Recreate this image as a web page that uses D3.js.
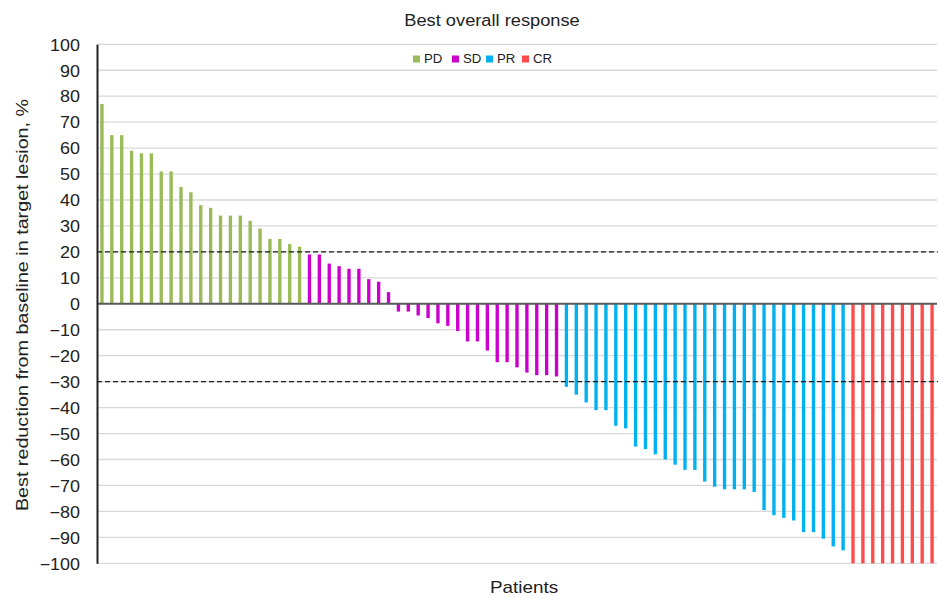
<!DOCTYPE html>
<html>
<head>
<meta charset="utf-8">
<script src="https://cdn.jsdelivr.net/npm/d3@7"></script>
<style>
  body { margin: 0; background: #fff; }
  svg { display: block; font-family: "Liberation Sans", Arial, Helvetica, sans-serif; }
</style>
</head>
<body>
<svg id="chart" width="938" height="598"></svg>
<script>
// ---- Data ----
const groups = ["PD", "SD", "PR", "CR"];
const groupColors = ["#9BBB59", "#CC00CC", "#00B0F0", "#FF4B4B"];
const pdValues = [77, 65, 65, 59, 58, 58, 51, 51, 45, 43, 38, 37, 34, 34, 34, 32, 29, 25, 25, 23, 22];
const sdValues = [19, 19, 15.5, 14.5, 13.5, 13.5, 9.5, 8.5, 4.5,
  -3, -3, -4.5, -5.5, -7.5, -8.5, -10.5, -14.5, -14.5, -18, -22.5, -22.5, -24.5, -26.5, -27.5, -27.5, -28];
const prValues = [-32, -35, -38, -41, -41, -47, -48, -55, -56, -58, -60, -62, -64, -64, -68.5,
  -70.5, -71.5, -71.5, -71.5, -72.5, -79.5, -81.5, -82.5, -83.5, -88, -88, -90.5, -93.5, -95];
const crValues = [-100, -100, -100, -100, -100, -100, -100, -100, -100];
const yTicks = [100, 90, 80, 70, 60, 50, 40, 30, 20, 10, 0, -10, -20, -30, -40, -50, -60, -70, -80, -90, -100];
const thresholds = [20, -30];
const titleText = "Best overall response";
const yLabel = "Best reduction from baseline in target lesion, %";
const xLabel = "Patients";

// ---- Build table ----
const seriesValues = [pdValues, sdValues, prValues, crValues];
const rows = [];
seriesValues.forEach((vals, gi) => vals.forEach(v => rows.push({ id: rows.length, group: groups[gi], value: v })));

const svg = d3.select("#chart");
const pLeft = 97, pRight = 937, pTop = 44.3, pBottom = 563.3;

// widen text glyphs to match reference font
function stretch(sel, factor) {
  sel.each(function () {
    const len = this.getComputedTextLength();
    d3.select(this).attr("textLength", len * factor).attr("lengthAdjust", "spacingAndGlyphs");
  });
}

const x = d3.scaleBand().domain(rows.map(d => d.id)).range([pLeft, pRight]).paddingInner(0.66).paddingOuter(0.33);
const y = d3.scaleLinear().domain([-100, 100]).range([pBottom, pTop]);
const color = d3.scaleOrdinal().domain(groups).range(groupColors);

// gridlines
svg.append("g")
  .selectAll("line")
  .data(yTicks.filter(t => t !== 0))
  .join("line")
  .attr("x1", pLeft).attr("x2", pRight)
  .attr("y1", d => y(d)).attr("y2", d => y(d))
  .attr("stroke", "#D9D9D9").attr("stroke-width", 1.3);

// bars
svg.append("g")
  .selectAll("rect")
  .data(rows)
  .join("rect")
  .attr("x", d => x(d.id))
  .attr("width", x.bandwidth())
  .attr("y", d => y(Math.max(0, d.value)))
  .attr("height", d => Math.abs(y(d.value) - y(0)))
  .attr("fill", d => color(d.group));

// zero line
svg.append("line")
  .attr("x1", pLeft).attr("x2", pRight)
  .attr("y1", y(0)).attr("y2", y(0))
  .attr("stroke", "#595959").attr("stroke-width", 2);

// threshold dashed lines
svg.append("g")
  .selectAll("line")
  .data(thresholds)
  .join("line")
  .attr("x1", pLeft).attr("x2", 938)
  .attr("y1", d => y(d)).attr("y2", d => y(d))
  .attr("stroke", "#1a1a1a").attr("stroke-width", 1.4)
  .attr("stroke-dasharray", "5,3");

// y axis
const yAxis = d3.axisLeft(y).tickValues(yTicks).tickSize(0).tickPadding(17)
  .tickFormat(d => d < 0 ? "\u2212" + Math.abs(d) : d);
const yg = svg.append("g").attr("transform", `translate(${pLeft},0)`).call(yAxis);
yg.select(".domain").attr("stroke", "#222").attr("stroke-width", 2);
yg.selectAll("text").attr("font-size", 16).attr("fill", "#222")
  .attr("font-family", "Liberation Sans, Arial, sans-serif").attr("dy", "0.36em");
stretch(yg.selectAll("text"), 1.12);

// title
const title = svg.append("text").attr("x", 492).attr("y", 25.5).attr("text-anchor", "middle")
  .attr("font-size", 16).attr("fill", "#222").text(titleText);
stretch(title, 1.14);

// x label
const xl = svg.append("text").attr("x", 524).attr("y", 593).attr("text-anchor", "middle")
  .attr("font-size", 17).attr("fill", "#222").text(xLabel);
stretch(xl, 1.11);

// y label
const yl = svg.append("text").attr("transform", `translate(27.5,305) rotate(-90)`)
  .attr("text-anchor", "middle").attr("font-size", 17).attr("fill", "#222").text(yLabel);
stretch(yl, 1.16);

// legend
const legendX = [413, 452, 486, 522];
const lg = svg.append("g").selectAll("g").data(groups).join("g")
  .attr("transform", (d, i) => `translate(${legendX[i]},55.5)`);
lg.append("rect").attr("width", 7).attr("height", 7).attr("fill", d => color(d));
const lt = lg.append("text").attr("x", 11).attr("y", 7.5).attr("font-size", 12).attr("fill", "#222").text(d => d);
stretch(lt, 1.1);
</script>
</body>
</html>
